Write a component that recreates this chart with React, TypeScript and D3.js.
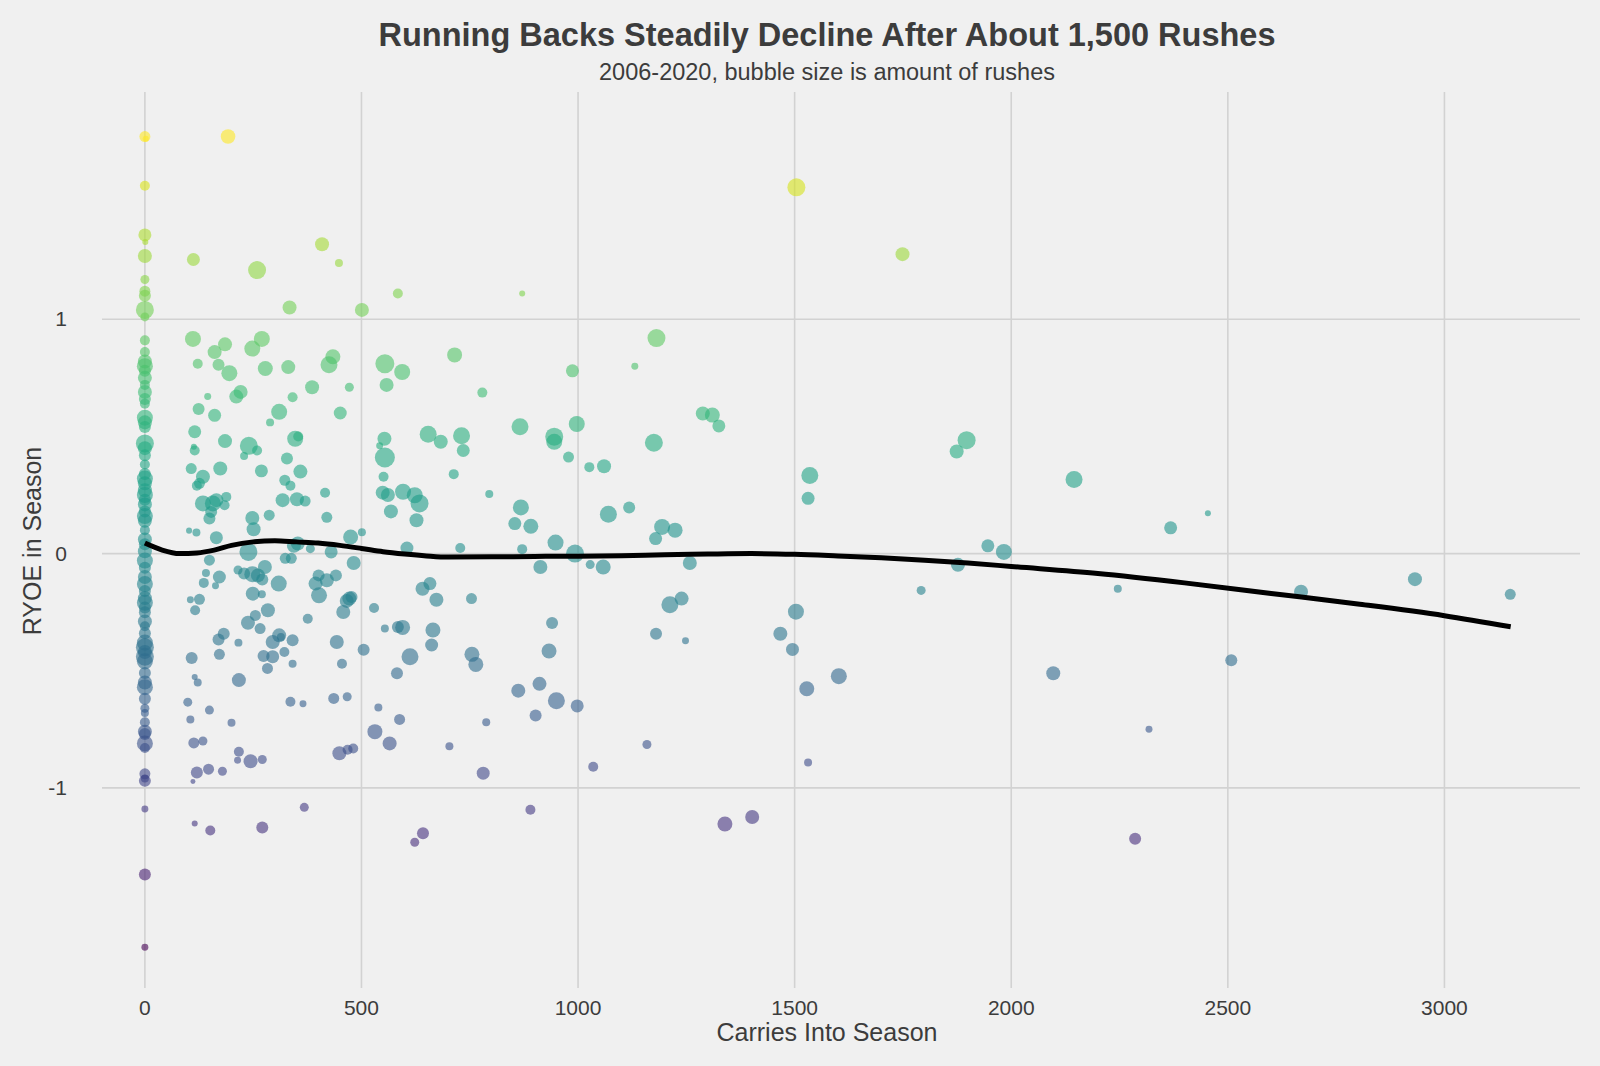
import React from 'react';
import * as d3 from 'd3';

// [carries into season, RYOE in season, rushes]
const zeroCarries: [number, number, number][] = [
  [0, 1.78, 127], [2, 1.77, 38], [0, 1.57, 105], [0, 1.36, 177], [1, 1.33, 38],
  [0, 1.27, 206], [0, 1.17, 85], [0, 1.12, 127], [0, 1.1, 151], [0, 1.04, 340],
  [0, 1.01, 85], [0, 0.91, 105], [0, 0.86, 105], [0, 0.82, 206], [0, 0.8, 269],
  [0, 0.78, 151], [0, 0.75, 206], [0, 0.72, 105], [0, 0.69, 206], [0, 0.66, 151],
  [0, 0.64, 105], [0, 0.58, 269], [0, 0.56, 206], [0, 0.54, 151], [0, 0.47, 340],
  [0, 0.45, 206], [0, 0.42, 151], [0, 0.38, 105], [0, 0.34, 151], [0, 0.32, 269],
  [0, 0.3, 206], [0, 0.27, 206], [0, 0.25, 269], [0, 0.23, 151], [0, 0.21, 206],
  [0, 0.18, 151], [0, 0.16, 269], [0, 0.14, 206], [0, 0.1, 105], [0, 0.06, 206],
  [0, 0.04, 151], [0, 0.01, 206], [0, -0.03, 269], [0, -0.06, 151], [0, -0.1, 206],
  [0, -0.13, 269], [0, -0.16, 151], [0, -0.19, 206], [0, -0.21, 269], [0, -0.23, 151],
  [0, -0.25, 151], [0, -0.29, 206], [0, -0.31, 105], [0, -0.34, 151], [0, -0.38, 269],
  [0, -0.4, 340], [0, -0.42, 206], [0, -0.44, 340], [0, -0.46, 269], [0, -0.51, 151],
  [0, -0.55, 206], [0, -0.57, 269], [0, -0.62, 151], [0, -0.66, 85], [0, -0.68, 67],
  [0, -0.72, 105], [0, -0.76, 206], [0, -0.77, 151], [0, -0.81, 269], [0, -0.83, 105],
  [0, -0.94, 127], [0, -0.97, 151], [0, -0.96, 67], [0, -1.09, 51], [0, -1.37, 151],
  [0, -1.68, 51],
];

const earlyCareer: [number, number, number][] = [
  [192, 1.78, 224], [409, 1.32, 206], [448, 1.24, 67], [112, 1.255, 177], [259, 1.21, 340],
  [584, 1.11, 105], [334, 1.05, 206], [501, 1.04, 206], [111, 0.916, 269], [185, 0.893, 206],
  [161, 0.86, 206], [270, 0.916, 269], [248, 0.875, 269], [122, 0.81, 105], [170, 0.806, 151],
  [195, 0.77, 269], [278, 0.79, 236], [331, 0.796, 206], [434, 0.84, 236], [425, 0.806, 303],
  [472, 0.71, 85], [554, 0.81, 379], [558, 0.72, 206], [145, 0.67, 51], [211, 0.67, 206],
  [221, 0.69, 206], [124, 0.617, 151], [161, 0.59, 177], [310, 0.605, 269], [289, 0.56, 67],
  [341, 0.667, 105], [386, 0.71, 206], [451, 0.6, 177], [115, 0.52, 177], [113, 0.456, 38],
  [115, 0.44, 105], [185, 0.48, 206], [240, 0.46, 340], [259, 0.44, 105], [229, 0.416, 67],
  [347, 0.49, 269], [354, 0.5, 105], [328, 0.406, 151], [553, 0.49, 206], [542, 0.46, 51],
  [554, 0.41, 420], [107, 0.363, 127], [134, 0.328, 206], [126, 0.3, 127], [120, 0.29, 105],
  [174, 0.363, 206], [269, 0.353, 177], [323, 0.313, 127], [336, 0.29, 105], [359, 0.35, 206],
  [416, 0.26, 105], [551, 0.328, 105], [549, 0.26, 206], [561, 0.25, 206], [568, 0.18, 206],
  [134, 0.214, 269], [157, 0.214, 269], [165, 0.228, 206], [188, 0.242, 105], [184, 0.206, 105],
  [149, 0.15, 151], [153, 0.178, 151], [248, 0.152, 206], [251, 0.104, 206], [287, 0.164, 127],
  [318, 0.228, 206], [351, 0.232, 206], [370, 0.224, 127], [420, 0.155, 127], [102, 0.098, 38],
  [119, 0.09, 67], [165, 0.068, 177], [475, 0.071, 236], [501, 0.091, 67], [353, 0.043, 206],
  [344, 0.033, 206], [382, 0.021, 85], [430, 0.007, 177], [239, 0.007, 340], [324, -0.02, 127],
  [338, -0.02, 127], [149, -0.028, 127], [482, -0.04, 206], [215, -0.07, 85], [229, -0.085, 151],
  [248, -0.088, 269], [261, -0.093, 206], [277, -0.057, 206], [271, -0.111, 151], [141, -0.083, 67],
  [172, -0.1, 177], [136, -0.125, 105], [163, -0.137, 51], [309, -0.128, 269], [401, -0.093, 151],
  [394, -0.128, 206], [420, -0.114, 206], [441, -0.093, 151], [402, -0.178, 269], [105, -0.197, 51],
  [126, -0.195, 127], [249, -0.171, 206], [270, -0.174, 67], [116, -0.242, 105], [238, -0.295, 206],
  [255, -0.264, 127], [284, -0.242, 206], [376, -0.278, 105], [466, -0.202, 206], [472, -0.192, 206],
  [458, -0.249, 206], [477, -0.185, 151], [529, -0.232, 105], [554, -0.32, 67], [584, -0.313, 151],
  [266, -0.32, 127], [310, -0.349, 206], [314, -0.356, 67], [341, -0.37, 151], [295, -0.377, 206],
  [216, -0.38, 67], [170, -0.367, 151], [182, -0.342, 151], [108, -0.446, 151], [172, -0.43, 127],
  [295, -0.44, 177], [274, -0.437, 151], [283, -0.49, 127], [322, -0.42, 105], [341, -0.47, 67],
  [443, -0.377, 206], [455, -0.47, 105], [505, -0.41, 151], [115, -0.527, 38], [217, -0.54, 206],
  [122, -0.55, 67], [99, -0.634, 85], [149, -0.668, 85], [105, -0.708, 67], [200, -0.722, 67],
  [336, -0.632, 105], [365, -0.641, 51], [436, -0.618, 127], [467, -0.611, 85], [539, -0.657, 67],
  [582, -0.511, 151], [588, -0.708, 127], [531, -0.76, 236], [565, -0.81, 206], [113, -0.808, 127],
  [134, -0.8, 85], [217, -0.846, 105], [214, -0.882, 51], [244, -0.886, 206], [271, -0.879, 85],
  [449, -0.852, 206], [468, -0.837, 105], [481, -0.832, 105], [120, -0.934, 151], [147, -0.92, 127],
  [179, -0.929, 85], [111, -0.973, 26], [368, -1.083, 85], [115, -1.152, 38], [151, -1.182, 105],
  [271, -1.169, 151],
];

const midCareer: [number, number, number][] = [
  [871, 1.11, 38], [594, 0.775, 269], [715, 0.848, 236], [779, 0.687, 105], [987, 0.78, 177],
  [1181, 0.92, 340], [1131, 0.8, 51], [1288, 0.598, 206], [1310, 0.591, 236], [1325, 0.545, 177],
  [654, 0.509, 303], [683, 0.477, 206], [731, 0.503, 303], [735, 0.44, 177], [713, 0.339, 105],
  [866, 0.541, 303], [945, 0.499, 340], [945, 0.477, 269], [997, 0.553, 269], [978, 0.412, 127],
  [1026, 0.369, 105], [1060, 0.373, 206], [1175, 0.473, 340], [795, 0.254, 67], [596, 0.264, 269],
  [623, 0.249, 269], [634, 0.214, 340], [627, 0.142, 206], [868, 0.197, 269], [854, 0.128, 177],
  [891, 0.117, 236], [1070, 0.168, 303], [1118, 0.197, 151], [1194, 0.114, 269], [1224, 0.1, 236],
  [1179, 0.064, 177], [605, 0.024, 177], [728, 0.024, 105], [871, 0.019, 105], [948, 0.047, 269],
  [993, 0.0, 340], [913, -0.057, 206], [1028, -0.047, 85], [1058, -0.057, 236], [1258, -0.04, 206],
  [641, -0.15, 206], [658, -0.128, 177], [673, -0.197, 206], [754, -0.192, 127], [1212, -0.218, 303],
  [1239, -0.192, 206], [940, -0.296, 151], [595, -0.315, 236], [665, -0.326, 236], [662, -0.39, 177],
  [612, -0.44, 303], [755, -0.43, 236], [764, -0.473, 236], [933, -0.416, 236], [862, -0.585, 206],
  [911, -0.556, 206], [950, -0.628, 303], [902, -0.691, 151], [998, -0.65, 177], [788, -0.72, 67],
  [703, -0.822, 67], [781, -0.937, 177], [1035, -0.91, 105], [1159, -0.815, 85], [1180, -0.342, 151],
  [1248, -0.372, 51], [890, -1.093, 105], [642, -1.194, 151], [623, -1.232, 85], [1339, -1.154, 236],
  [1402, -1.124, 206],
];

const lateCareer: [number, number, number][] = [
  [1504, 1.563, 340], [1749, 1.278, 206], [1535, 0.333, 303], [1897, 0.484, 340], [1874, 0.436, 206],
  [2145, 0.316, 303], [1531, 0.236, 177], [2368, 0.11, 177], [2454, 0.172, 38], [1946, 0.033, 177],
  [1983, 0.007, 269], [1877, -0.048, 206], [1792, -0.157, 85], [2246, -0.15, 67], [2669, -0.163, 206],
  [2932, -0.109, 206], [3152, -0.174, 127], [1503, -0.248, 269], [1495, -0.409, 177], [1467, -0.342, 206],
  [1528, -0.577, 236], [1602, -0.523, 269], [2097, -0.511, 206], [2318, -0.75, 51], [1531, -0.892, 67],
  [2286, -1.217, 151], [2508, -0.455, 151],
];

// loess-style trend
const trendX = [0, 40, 80, 120, 160, 200, 250, 300, 350, 400, 450, 500, 550, 600, 650, 700, 800, 900,
  1000, 1100, 1200, 1300, 1400, 1500, 1600, 1700, 1800, 1900, 2000, 2200, 2400, 2600, 2800, 3000, 3153];
const trendY = [0.045, 0.015, 0.0, 0.003, 0.015, 0.035, 0.05, 0.055, 0.05, 0.045, 0.035, 0.022, 0.008,
  -0.002, -0.01, -0.015, -0.014, -0.012, -0.011, -0.009, -0.005, -0.002, 0.0, -0.003, -0.01, -0.018,
  -0.028, -0.04, -0.055, -0.085, -0.125, -0.17, -0.215, -0.265, -0.312];

const xTicks = [0, 500, 1000, 1500, 2000, 2500, 3000];
const yTicks = [-1, 0, 1];

const W = 1600;
const H = 1066;
const FONT = '"Liberation Sans", Arial, Helvetica, sans-serif';
const INK = '#3c3c3c';

const App: React.FC = () => {
  const points = [...zeroCarries, ...earlyCareer, ...midCareer, ...lateCareer];

  const x = d3.scaleLinear().domain([-99, 3313]).range([102, 1580]);
  const y = d3.scaleLinear().domain([-1.854, 1.97]).range([988, 92]);
  const r = d3.scaleSqrt().domain([0, 420]).range([0, 10]);
  const color = d3.scaleSequential(d3.interpolateViridis).domain([-1.68, 1.78]);

  const line = d3
    .line<number>()
    .x((d) => x(d))
    .y((_, i) => y(trendY[i]))
    .curve(d3.curveMonotoneX);

  return (
    <div style={{ position: 'absolute', left: 0, top: 0 }}>
      <svg width={W} height={H} style={{ display: 'block' }} fontFamily={FONT}>
        <rect width={W} height={H} fill="#f0f0f0" />

        {xTicks.map((t) => (
          <line key={'gx' + t} x1={x(t)} x2={x(t)} y1={92} y2={988} stroke="#d2d2d2" strokeWidth={1.6} />
        ))}
        {yTicks.map((t) => (
          <line key={'gy' + t} x1={102} x2={1580} y1={y(t)} y2={y(t)} stroke="#d2d2d2" strokeWidth={1.6} />
        ))}

        {points.map((d, i) => (
          <circle key={i} cx={x(d[0])} cy={y(d[1])} r={r(d[2])} fill={color(d[1])} fillOpacity={0.6} />
        ))}

        <path d={line(trendX) || ''} fill="none" stroke="#000" strokeWidth={5} />

        {xTicks.map((t) => (
          <text key={'tx' + t} x={x(t)} y={1015} textAnchor="middle" fontSize={21} fill={INK}>
            {t}
          </text>
        ))}
        {yTicks.map((t) => (
          <text key={'ty' + t} x={67} y={y(t) + 7} textAnchor="end" fontSize={21} fill={INK}>
            {t}
          </text>
        ))}

        <text x={827} y={1041} textAnchor="middle" fontSize={25} fill={INK}>
          Carries Into Season
        </text>
        <text
          transform={`translate(41,${541}) rotate(-90)`}
          textAnchor="middle"
          fontSize={25}
          fill={INK}
        >
          RYOE in Season
        </text>

        <text x={827} y={46} textAnchor="middle" fontSize={32.5} fontWeight="bold" fill={INK}>
          Running Backs Steadily Decline After About 1,500 Rushes
        </text>
        <text x={827} y={80} textAnchor="middle" fontSize={23.5} fill={INK}>
          2006-2020, bubble size is amount of rushes
        </text>
      </svg>
    </div>
  );
};

export default App;
